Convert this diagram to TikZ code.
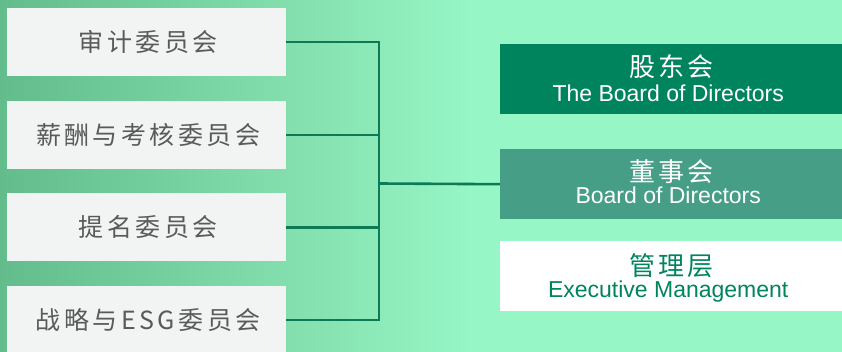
\documentclass[tikz,border=0pt]{standalone}
\usepackage{fontspec}
\setmainfont{Liberation Sans}
\newfontfamily\cjkl[LetterSpace=14]{Noto Sans CJK SC}
\newfontfamily\cjkr[LetterSpace=12]{Noto Sans CJK SC}
\definecolor{bgL}{HTML}{62BC8C}
\definecolor{bgM}{HTML}{84E0AE}
\definecolor{bgR}{HTML}{97F6C6}
\definecolor{boxgray}{HTML}{F2F4F3}
\definecolor{txtgray}{HTML}{5A5A5A}
\definecolor{darkg}{HTML}{00845E}
\definecolor{midg}{HTML}{459E85}
\definecolor{lineg}{HTML}{0B7A55}
\tikzset{
  leftbox/.style={fill=boxgray, minimum width=279pt, minimum height=68pt, inner sep=0pt,
    text=txtgray, font=\fontsize{25}{29}\selectfont\cjkl},
  rightbox/.style={minimum width=342pt, minimum height=70pt, inner sep=0pt, anchor=north west},
  cnlabel/.style={anchor=base, font=\fontsize{26}{30}\selectfont\cjkr},
  enlabel/.style={anchor=base, font=\fontsize{23}{27}\selectfont},
  conn/.style={draw=lineg, line width=2.6pt}
}
\begin{document}
\begin{tikzpicture}[x=1pt, y=-1pt]
\useasboundingbox (0,0) rectangle (842,352);
\shade[left color=bgL, right color=bgM] (0,0) rectangle (300,352);
\shade[left color=bgM, right color=bgR] (300,0) rectangle (470,352);
\fill[bgR] (470,0) rectangle (842,352);

% left committees
\node[leftbox] (l1) at (146.5,42) {\hspace{3.5pt}审计委员会};
\node[leftbox] (l2) at (146.5,135) {\hspace{3.5pt}薪酬与考核委员会};
\node[leftbox] (l3) at (146.5,227.5) {\hspace{3.5pt}提名委员会};
\node[leftbox] (l4) at (146.5,320) {\hspace{3.5pt}战略与ESG委员会};

% right boxes
\node[rightbox, fill=darkg] (r1) at (500,44) {};
\node[rightbox, fill=midg] (r2) at (500,149) {};
\node[rightbox, fill=white] (r3) at (500,241) {};

\node[cnlabel, text=white] (r1c) at ([xshift=-1pt, yshift=-33pt]r1.north) {\hspace{3pt}股东会};
\node[enlabel, text=white] (r1e) at ([xshift=-3pt, yshift=-58pt]r1.north) {The Board of Directors};
\node[cnlabel, text=white] (r2c) at ([xshift=-1pt, yshift=-33pt]r2.north) {\hspace{3pt}董事会};
\node[enlabel, text=white] (r2e) at ([xshift=-3pt, yshift=-55pt]r2.north) {Board of Directors};
\node[cnlabel, text=darkg] (r3c) at ([xshift=-1pt, yshift=-35pt]r3.north) {\hspace{3pt}管理层};
\node[enlabel, text=darkg] (r3e) at ([xshift=-3pt, yshift=-56pt]r3.north) {Executive Management};

% connectors
\coordinate (bus) at (379,183.5);
\draw[conn] (l1.east) -| (bus);
\draw[conn] (l2.east) -| (bus);
\draw[conn] (l3.east) -| (bus);
\draw[conn] (l4.east) -| (bus);
\draw[conn] (bus) -- (r2.west);
\end{tikzpicture}
\end{document}
